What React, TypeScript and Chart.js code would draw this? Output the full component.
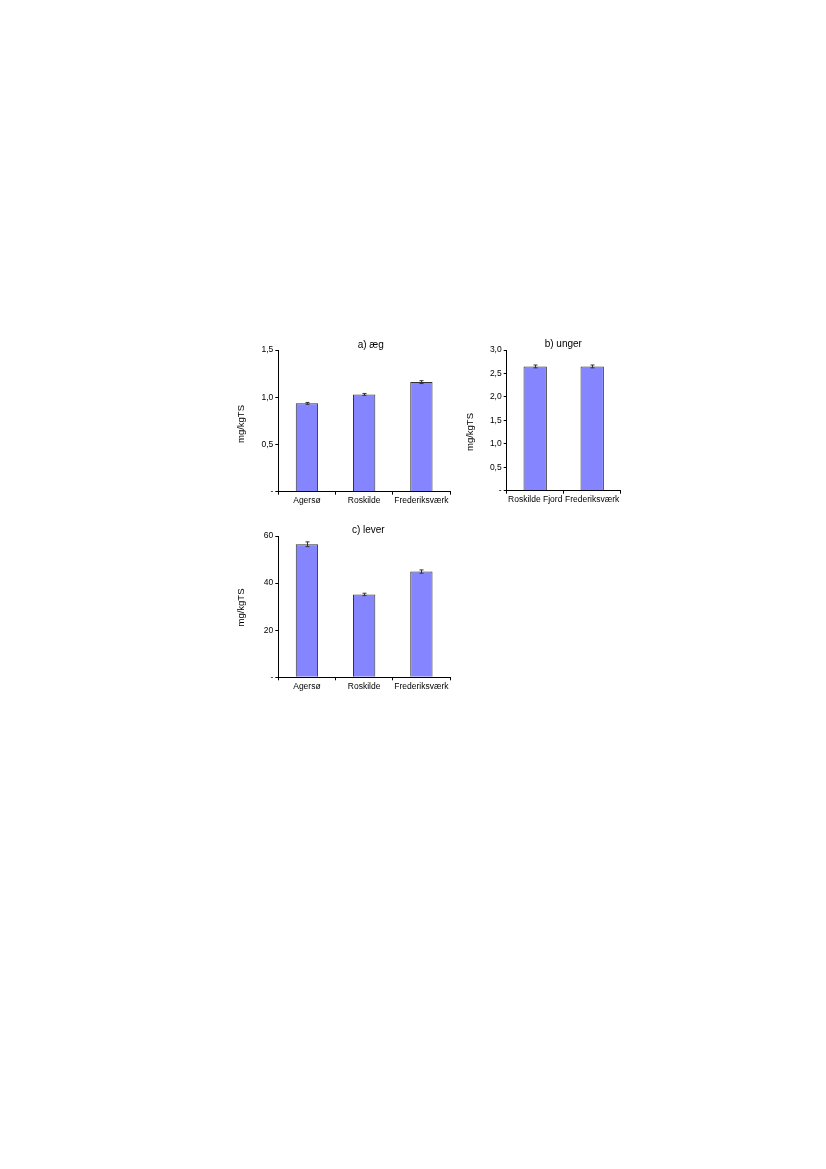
import Chart from 'chart.js/auto';
import { useEffect, useRef } from 'react';

// a) æg
const catsA = ['Agersø', 'Roskilde', 'Frederiksværk'];
const valsA = [0.935, 1.03, 1.16];
const errA = [0.01, 0.01, 0.015];

// b) unger
const catsB = ['Roskilde Fjord', 'Frederiksværk'];
const valsB = [2.65, 2.65];
const errB = [0.03, 0.03];

// c) lever
const catsC = ['Agersø', 'Roskilde', 'Frederiksværk'];
const valsC = [56.5, 35.2, 44.9];
const errC = [1.0, 0.5, 0.7];

const yTitle = 'mg/kgTS';
const FONT = '"Liberation Sans", Arial, sans-serif';

type PanelProps = {
	title: string;
	cats: string[];
	vals: number[];
	errs: number[];
	max: number;
	step: number;
	decimals: number;
	left: number;
	top: number;
	width: number;
	height: number;
	pad: { left: number; right: number; top: number; bottom: number };
	yWidth: number;
	xHeight: number;
	titlePos: [number, number];
	yTitlePos: [number, number];
	barPct: number;
};

function BarPanel(p: PanelProps){
	const ref = useRef<HTMLCanvasElement | null>(null);
	useEffect(()=>{
		if(!ref.current)return;

		const errorBars = {
			id: 'errorBars',
			afterDatasetsDraw(chart: any){
				const ctx = chart.ctx;
				const meta = chart.getDatasetMeta(0);
				const y = chart.scales.y;
				ctx.save();
				ctx.strokeStyle = '#333';
				ctx.lineWidth = 1;
				meta.data.forEach((bar: any, i: number)=>{
					const x = Math.round(bar.x) + 0.5;
					const hi = y.getPixelForValue(p.vals[i] + p.errs[i]);
					const lo = y.getPixelForValue(p.vals[i] - p.errs[i]);
					ctx.beginPath();
					ctx.moveTo(x, hi); ctx.lineTo(x, lo);
					ctx.moveTo(x - 2, hi); ctx.lineTo(x + 2, hi);
					ctx.moveTo(x - 2, lo); ctx.lineTo(x + 2, lo);
					ctx.stroke();
				});
				ctx.restore();
			}
		};

		// panel title and y axis title, placed like the source figure
		const labels = {
			id: 'panelLabels',
			afterDraw(chart: any){
				const ctx = chart.ctx;
				ctx.save();
				ctx.fillStyle = '#000';
				ctx.textAlign = 'center';
				ctx.textBaseline = 'middle';
				ctx.font = `10px ${FONT}`;
				ctx.fillText(p.title, p.titlePos[0], p.titlePos[1]);
				ctx.translate(p.yTitlePos[0], p.yTitlePos[1]);
				ctx.rotate(-Math.PI / 2);
				ctx.font = `9.5px ${FONT}`;
				ctx.fillText(yTitle, 0, 0);
				ctx.restore();
			}
		};

		const chart = new Chart(ref.current, {
			type: 'bar',
			data: {
				labels: p.cats,
				datasets: [{
					data: p.vals,
					backgroundColor: '#8585ff',
					borderColor: '#333',
					borderWidth: 1,
					barPercentage: p.barPct,
					categoryPercentage: 1,
				}]
			},
			options: {
				animation: false,
				responsive: true,
				maintainAspectRatio: false,
				layout: { padding: p.pad },
				plugins: { legend: { display: false }, tooltip: { enabled: false } },
				scales: {
					x: {
						afterFit: (s: any)=>{ s.height = p.xHeight; },
						grid: { display: true, drawOnChartArea: false, drawTicks: true, tickLength: 3, color: '#000', offset: true },
						border: { display: true, color: '#000', width: 1 },
						ticks: { color: '#000', font: { family: FONT, size: 8.5 }, padding: 1, maxRotation: 0, autoSkip: false },
					},
					y: {
						min: 0,
						max: p.max,
						afterFit: (s: any)=>{ s.width = p.yWidth; },
						grid: { display: true, drawOnChartArea: false, drawTicks: true, tickLength: 3, color: '#000' },
						border: { display: true, color: '#000', width: 1 },
						ticks: {
							stepSize: p.step,
							color: '#000',
							font: { family: FONT, size: 8.5 },
							padding: 2,
							callback: (v: any)=> Number(v) === 0 ? '-' : Number(v).toFixed(p.decimals).replace('.', ','),
						},
					},
				},
			},
			plugins: [errorBars, labels],
		});
		return () => chart.destroy();
	},[]);

	return (
		<div style={{ position: 'absolute', left: p.left, top: p.top, width: p.width, height: p.height }}>
			<canvas ref={ref}></canvas>
		</div>
	);
}

export default function App(){
	return (
		<div style={{ position: 'absolute', left: 0, top: 0, width: 826, height: 1169, background: '#fff' }}>
			<BarPanel title="a) æg" cats={catsA} vals={valsA} errs={errA} max={1.5} step={0.5} decimals={1}
				left={230} top={335} width={230} height={180}
				pad={{ left: 0, right: 10, top: 15, bottom: 0 }} yWidth={48.3} xHeight={23.3}
				titlePos={[140.7, 10]} yTitlePos={[11.7, 89]} barPct={0.39} />
			<BarPanel title="b) unger" cats={catsB} vals={valsB} errs={errB} max={3} step={0.5} decimals={1}
				left={455} top={335} width={180} height={180}
				pad={{ left: 0, right: 14.3, top: 15, bottom: 0 }} yWidth={51.7} xHeight={24.3}
				titlePos={[108.3, 9]} yTitlePos={[15.7, 97]} barPct={0.41} />
			<BarPanel title="c) lever" cats={catsC} vals={valsC} errs={errC} max={60} step={20} decimals={0}
				left={230} top={520} width={230} height={180}
				pad={{ left: 0, right: 10, top: 16, bottom: 0 }} yWidth={48.3} xHeight={22.7}
				titlePos={[138.3, 10]} yTitlePos={[11.7, 87.5]} barPct={0.39} />
		</div>
	);
}
